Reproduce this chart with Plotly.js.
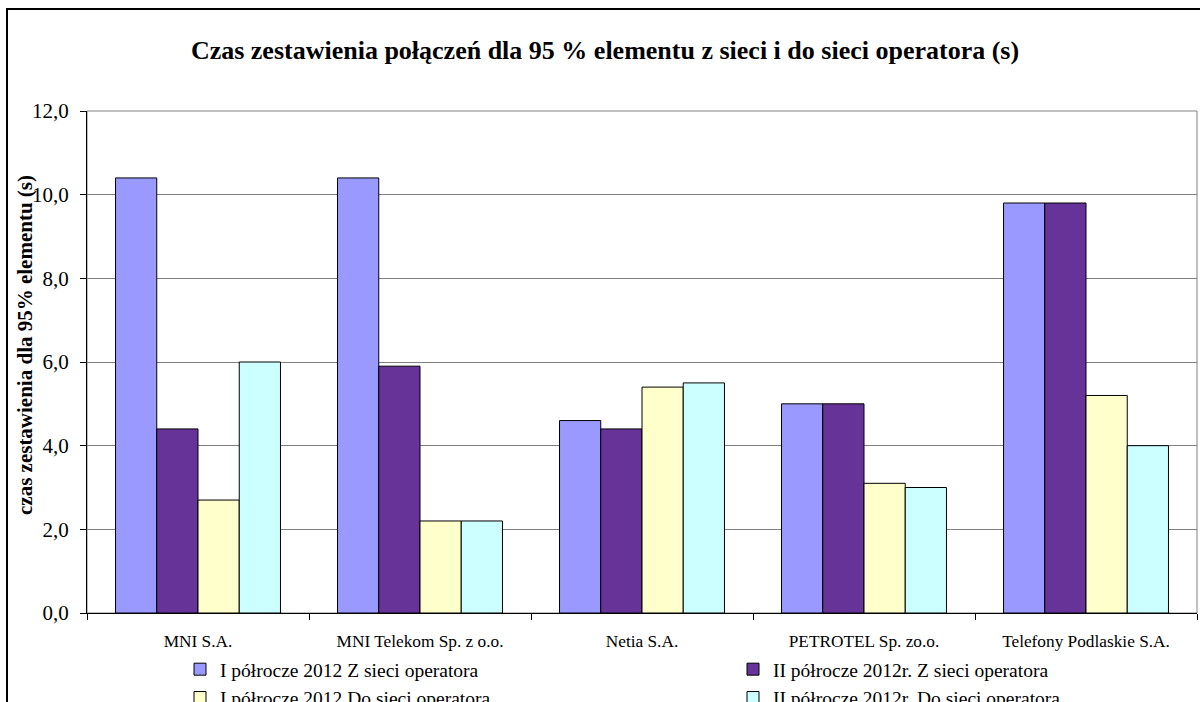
<!DOCTYPE html>
<html>
<head>
<meta charset="utf-8">
<script src="https://cdn.plot.ly/plotly-3.0.1.min.js"></script>
<style>html,body{margin:0;padding:0;background:#fff;}#chart{width:1200px;height:702px;}</style>
</head>
<body>
<div id="chart"></div>
<script>
const categories = ["MNI S.A.", "MNI Telekom Sp. z o.o.", "Netia S.A.", "PETROTEL Sp. zo.o.", "Telefony Podlaskie S.A."];
const seriesNames = [
  "I półrocze 2012 Z sieci operatora",
  "II półrocze 2012r. Z sieci operatora",
  "I półrocze 2012 Do sieci operatora",
  "II półrocze 2012r. Do sieci operatora"
];
const h1Z = [10.4, 10.4, 4.6, 5.0, 9.8];
const h2Z = [4.4, 5.9, 4.4, 5.0, 9.8];
const h1Do = [2.7, 2.2, 5.4, 3.1, 5.2];
const h2Do = [6.0, 2.2, 5.5, 3.0, 4.0];
const yTicks = [0, 2, 4, 6, 8, 10, 12];

const colors = ["#9999FF", "#663399", "#FFFFCC", "#CCFFFF"];
const values = [h1Z, h2Z, h1Do, h2Do];
const legendIds = ["legend", "legend2", "legend", "legend2"];
const serif = "Liberation Serif, Times New Roman, serif";

const traces = values.map((v, i) => ({
  type: "bar",
  name: seriesNames[i],
  x: categories,
  y: v,
  legend: legendIds[i],
  marker: {color: colors[i], line: {color: "#000000", width: 1}},
  hoverinfo: "none"
}));

// plot area: x 87..1197, y 111..613
const L = 87, R = 1197, T = 111, B = 613;
const W = R - L, H = B - T;
const px = v => (v - L) / W;
const py = v => (B - v) / H;

const layout = {
  width: 1200, height: 702,
  margin: {l: L, r: 1200 - R, t: T, b: 702 - B, autoexpand: false},
  paper_bgcolor: "#ffffff", plot_bgcolor: "#ffffff",
  separators: ", ",
  font: {family: serif, color: "#000000"},
  barmode: "group",
  bargap: 0.257,
  bargroupgap: 0,
  title: {
    text: "<b>Czas zestawienia połączeń dla 95 % elementu z sieci i do sieci operatora (s)</b>",
    font: {family: serif, size: 26, color: "#000"},
    xref: "container", x: 605 / 1200, xanchor: "center",
    yref: "container", y: 1 - 50 / 702, yanchor: "middle"
  },
  xaxis: {
    type: "category",
    showgrid: false,
    showline: true, linecolor: "#000", linewidth: 1,
    ticks: "outside", tickson: "boundaries", ticklen: 6, tickcolor: "#000", tickwidth: 1,
    tickfont: {family: serif, size: 17.3, color: "#000"},
    ticklabelstandoff: 12,
    zeroline: false,
    fixedrange: true
  },
  yaxis: {
    range: [0, 12],
    tickvals: yTicks,
    tickformat: ".1f",
    showgrid: true, gridcolor: "#808080", gridwidth: 1,
    showline: true, linecolor: "#000", linewidth: 1,
    ticks: "outside", ticklen: 6, tickcolor: "#000", tickwidth: 1,
    tickfont: {family: serif, size: 21, color: "#000"},
    ticklabelstandoff: 7,
    zeroline: false,
    fixedrange: true
  },
  showlegend: true,
  legend: {
    orientation: "v",
    x: px(180), xanchor: "left",
    y: py(650), yanchor: "top",
    font: {family: serif, size: 19.5, color: "#000"},
    bgcolor: "rgba(0,0,0,0)", borderwidth: 0
  },
  legend2: {
    orientation: "v",
    x: px(733), xanchor: "left",
    y: py(650), yanchor: "top",
    font: {family: serif, size: 19.5, color: "#000"},
    bgcolor: "rgba(0,0,0,0)", borderwidth: 0
  },
  annotations: [{
    text: "<b>czas zestawienia dla 95% elementu (s)</b>",
    textangle: -90,
    xref: "paper", yref: "paper",
    x: px(25), y: py(345),
    xanchor: "center", yanchor: "middle",
    showarrow: false,
    font: {family: serif, size: 21, color: "#000"}
  }],
  shapes: [
    {type: "rect", xref: "paper", yref: "paper", x0: 0, x1: 1, y0: 0, y1: 1,
     line: {color: "#808080", width: 1}, fillcolor: "rgba(0,0,0,0)", layer: "below"},
    {type: "rect", xref: "paper", yref: "paper", x0: px(7), x1: px(1215), y0: py(720), y1: py(9),
     line: {color: "#000000", width: 2}, fillcolor: "rgba(0,0,0,0)", layer: "above"}
  ]
};

Plotly.newPlot("chart", traces, layout, {displayModeBar: false, staticPlot: true});
</script>
</body>
</html>
